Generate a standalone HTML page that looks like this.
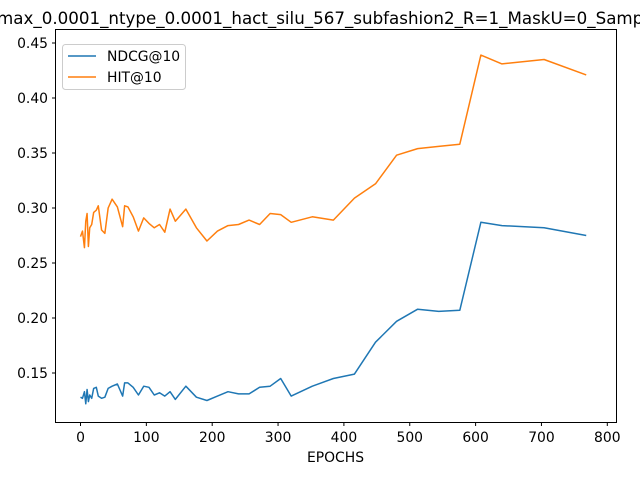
<!DOCTYPE html>
<html><head><meta charset="utf-8"><style>
body{margin:0;background:#fff;}
svg{display:block;font-family:"DejaVu Sans","Liberation Sans",sans-serif;}
</style></head><body>
<svg id="chart" width="640" height="480" viewBox="0 0 640 480">
<text x="-3" y="24" font-size="16.7" fill="#000">max_0.0001_ntype_0.0001_hact_silu_567_subfashion2_R=1_MaskU=0_Samp</text>
<g id="plot"></g>
<rect x="55.5" y="29.5" width="561" height="393" fill="none" stroke="#000" stroke-width="1"/>
<text x="335.5" y="462" font-size="13.9" text-anchor="middle">EPOCHS</text>
<g>
<rect x="62.5" y="44.5" width="123" height="45" rx="3" fill="#fff" fill-opacity="0.8" stroke="#ccc"/>
<line x1="68" y1="56" x2="96" y2="56" stroke="#1f77b4" stroke-width="1.5"/>
<text x="107" y="61" font-size="13.9">NDCG@10</text>
<line x1="68" y1="77" x2="96" y2="77" stroke="#ff7f0e" stroke-width="1.5"/>
<text x="107" y="82" font-size="13.9">HIT@10</text>
</g>
</svg>
<script>
const epochs=[0,3,6,8,10,12,14,17,20,24,27,32,37,42,48,56,64,67,72,80,88,96,104,112,120,128,136,144,160,176,192,208,224,240,256,272,288,304,320,352,384,416,448,480,512,544,576,608,640,704,768];
const hitValues=[0.274,0.279,0.264,0.288,0.295,0.265,0.282,0.285,0.296,0.298,0.302,0.280,0.277,0.300,0.308,0.301,0.283,0.302,0.301,0.292,0.279,0.291,0.286,0.282,0.285,0.278,0.299,0.288,0.299,0.282,0.270,0.279,0.284,0.285,0.289,0.285,0.295,0.294,0.287,0.292,0.289,0.309,0.322,0.348,0.354,0.356,0.358,0.439,0.431,0.435,0.421];
const ndcgValues=[0.128,0.127,0.133,0.122,0.135,0.124,0.130,0.127,0.136,0.137,0.129,0.127,0.128,0.136,0.138,0.140,0.129,0.141,0.141,0.137,0.130,0.138,0.137,0.130,0.132,0.129,0.133,0.126,0.138,0.128,0.125,0.129,0.133,0.131,0.131,0.137,0.138,0.145,0.129,0.138,0.145,0.149,0.178,0.197,0.208,0.206,0.207,0.287,0.284,0.282,0.275];
const xTicks=[0,100,200,300,400,500,600,700,800];
const yTicks=[0.15,0.20,0.25,0.30,0.35,0.40,0.45];
const yTickLabels=["0.15","0.20","0.25","0.30","0.35","0.40","0.45"];
const NS="http://www.w3.org/2000/svg";
const sx=v=>80.5+v*0.6585;
const sy=v=>373-(v-0.15)*1100;
const g=document.getElementById('plot');
function mk(t,a){const e=document.createElementNS(NS,t);for(const k in a)e.setAttribute(k,a[k]);g.appendChild(e);return e;}
xTicks.forEach(t=>{
 const l=mk('line',{x1:sx(t),x2:sx(t),y1:422.5,y2:426,stroke:'#000'});
 
 
 const tx=mk('text',{x:sx(t),y:442,'font-size':13.9,'text-anchor':'middle'});
 tx.textContent=t;
 
 
});
yTicks.forEach((t,i)=>{
 const l=mk('line',{x1:52,x2:55.5,y1:sy(t),y2:sy(t),stroke:'#000'});
 
 
 const tx=mk('text',{x:48,y:sy(t)+5,'font-size':13.9,'text-anchor':'end'});
 tx.textContent=yTickLabels[i];
 
 
});
function series(vals,color,name){
 const p=mk('polyline',{points:epochs.map((e,i)=>sx(e)+','+sy(vals[i])).join(' '),fill:'none',stroke:color,'stroke-width':1.5,'stroke-linejoin':'round'});
 
 
}
series(ndcgValues,'#1f77b4','ndcg-line');
series(hitValues,'#ff7f0e','hit-line');
</script>
</body></html>
